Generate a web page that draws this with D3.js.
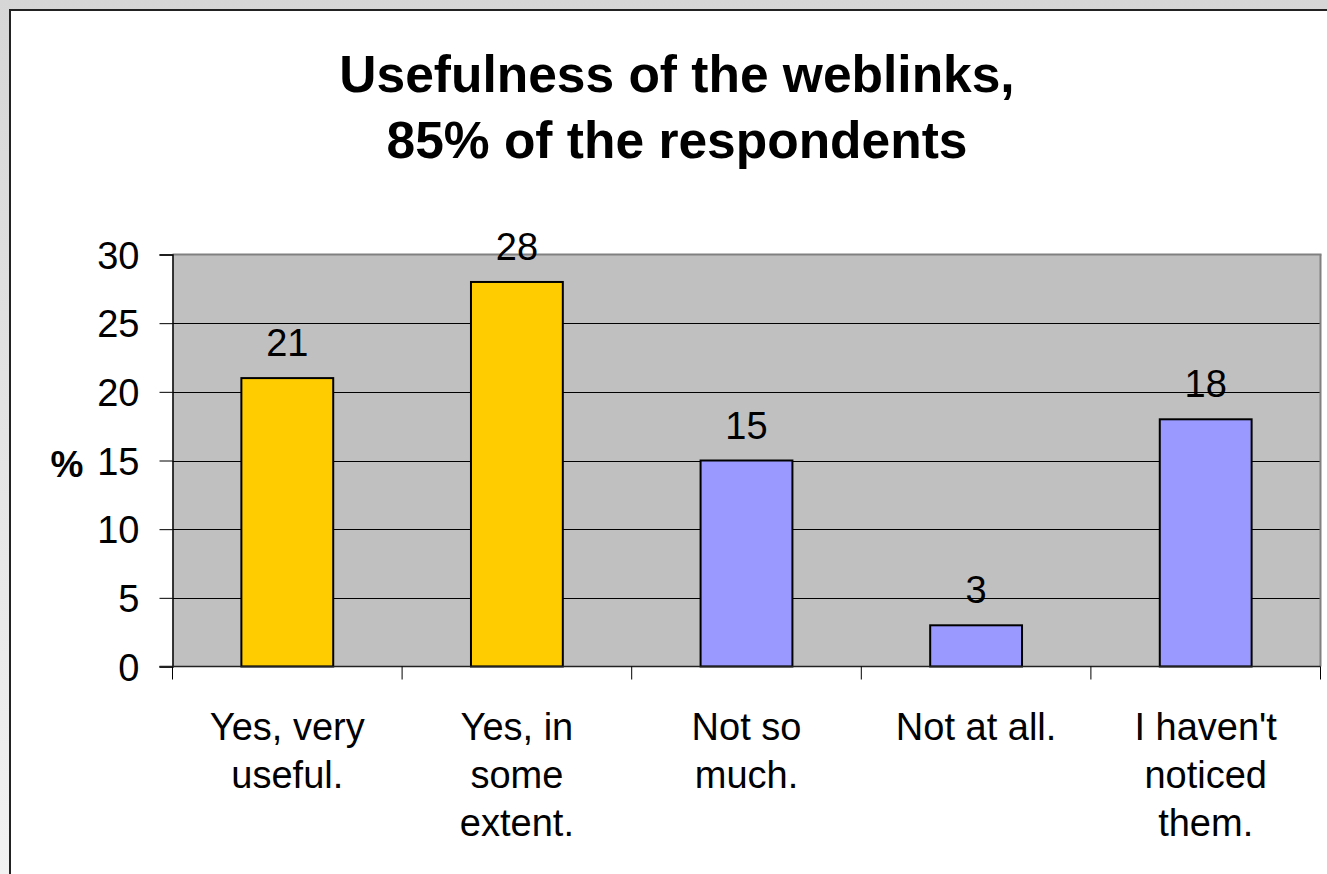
<!DOCTYPE html>
<html>
<head>
<meta charset="utf-8">
<script src="https://cdn.jsdelivr.net/npm/d3@7"></script>
<style>
  html, body { margin: 0; padding: 0; }
  body { width: 1327px; height: 874px; overflow: hidden;
         background: linear-gradient(to bottom, #d6d6d6, #f2f2f2); }
  svg { display: block; }
  text { font-family: "Liberation Sans", Arial, sans-serif; fill: #000; }
</style>
</head>
<body>
<svg id="chart" width="1327" height="874"></svg>
<script>
// Survey answers: how useful were the weblinks (% of respondents)
const categories = ["Yes, very\nuseful.", "Yes, in\nsome\nextent.", "Not so\nmuch.", "Not at all.", "I haven't\nnoticed\nthem."];
const values = [21, 28, 15, 3, 18];
const barColors = ["#FFCC00", "#FFCC00", "#9999FF", "#9999FF", "#9999FF"];
const yTicks = [0, 5, 10, 15, 20, 25, 30];
const titleLines = ["Usefulness of the weblinks,", "85% of the respondents"];

const svg = d3.select("#chart");

// white chart panel with dark frame
svg.append("rect")
  .attr("x", 10).attr("y", 10)
  .attr("width", 1340).attr("height", 900)
  .attr("fill", "#fff")
  .attr("stroke", "#222").attr("stroke-width", 2);

const plot = { left: 172.5, right: 1320.5, top: 254.5, bottom: 666.5 };

const x = d3.scaleBand()
  .domain(categories)
  .range([plot.left, plot.right])
  .paddingInner(0.6).paddingOuter(0.3);

const y = d3.scaleLinear()
  .domain([0, 30])
  .range([plot.bottom, plot.top]);

// plot background
svg.append("rect")
  .attr("x", plot.left).attr("y", plot.top)
  .attr("width", plot.right - plot.left).attr("height", plot.bottom - plot.top)
  .attr("fill", "#C0C0C0");

// horizontal gridlines
svg.append("g").selectAll("line")
  .data(yTicks.filter(d => d > 0 && d < 30))
  .join("line")
  .attr("x1", plot.left).attr("x2", plot.right)
  .attr("y1", d => Math.round(y(d)) + 0.5).attr("y2", d => Math.round(y(d)) + 0.5)
  .attr("stroke", "#000").attr("stroke-width", 1);

// plot frame: grey top and right edges
svg.append("line")
  .attr("x1", plot.left).attr("x2", plot.right + 1)
  .attr("y1", plot.top).attr("y2", plot.top)
  .attr("stroke", "#808080").attr("stroke-width", 2);
svg.append("line")
  .attr("x1", plot.right).attr("x2", plot.right)
  .attr("y1", plot.top).attr("y2", plot.bottom)
  .attr("stroke", "#808080").attr("stroke-width", 2);

// bars
svg.append("g").selectAll("rect")
  .data(values)
  .join("rect")
  .attr("x", (d, i) => x(categories[i]))
  .attr("y", d => y(d))
  .attr("width", x.bandwidth())
  .attr("height", d => y(0) - y(d))
  .attr("fill", (d, i) => barColors[i])
  .attr("stroke", "#000").attr("stroke-width", 2);

// value labels
svg.append("g").selectAll("text")
  .data(values)
  .join("text")
  .attr("x", (d, i) => x(categories[i]) + x.bandwidth() / 2)
  .attr("y", d => y(d) - 22)
  .attr("text-anchor", "middle")
  .attr("font-size", 38)
  .text(d => d);

// y axis
const yAxis = d3.axisLeft(y).tickValues(yTicks).tickSize(13).tickPadding(20);
const gy = svg.append("g")
  .attr("transform", `translate(${plot.left},0)`)
  .call(yAxis);
gy.select(".domain").attr("stroke", "#000").attr("stroke-width", 1.5);
gy.selectAll(".tick line").attr("stroke", "#000");
gy.selectAll(".tick text")
  .attr("font-size", 38)
  .attr("font-family", "Liberation Sans, Arial, sans-serif")
  .attr("fill", "#000")
  .attr("dy", "0.36em");

// y axis title
svg.append("text")
  .attr("x", 67).attr("y", 477)
  .attr("text-anchor", "middle")
  .attr("font-size", 37).attr("font-weight", "bold")
  .text("%");

// x axis: baseline and category separators
svg.append("line")
  .attr("x1", plot.left - 13).attr("x2", plot.right)
  .attr("y1", plot.bottom).attr("y2", plot.bottom)
  .attr("stroke", "#222").attr("stroke-width", 1.5);
const step = x.step();
svg.append("g").selectAll("line")
  .data(d3.range(categories.length + 1))
  .join("line")
  .attr("x1", i => plot.left + i * step).attr("x2", i => plot.left + i * step)
  .attr("y1", plot.bottom).attr("y2", plot.bottom + 13)
  .attr("stroke", "#000").attr("stroke-width", 1);

// category labels (multi-line)
const cat = svg.append("g").selectAll("text")
  .data(categories)
  .join("text")
  .attr("x", d => x(d) + x.bandwidth() / 2)
  .attr("y", 740)
  .attr("text-anchor", "middle")
  .attr("font-size", 38);
cat.selectAll("tspan")
  .data(d => d.split("\n"))
  .join("tspan")
  .attr("x", function () { return d3.select(this.parentNode).attr("x"); })
  .attr("dy", (d, i) => i === 0 ? 0 : 48)
  .text(d => d);

// chart title
svg.append("g").selectAll("text")
  .data(titleLines)
  .join("text")
  .attr("x", 677)
  .attr("y", (d, i) => 92 + i * 66)
  .attr("text-anchor", "middle")
  .attr("font-size", 51.5).attr("font-weight", "bold")
  .text(d => d);
</script>
</body>
</html>
